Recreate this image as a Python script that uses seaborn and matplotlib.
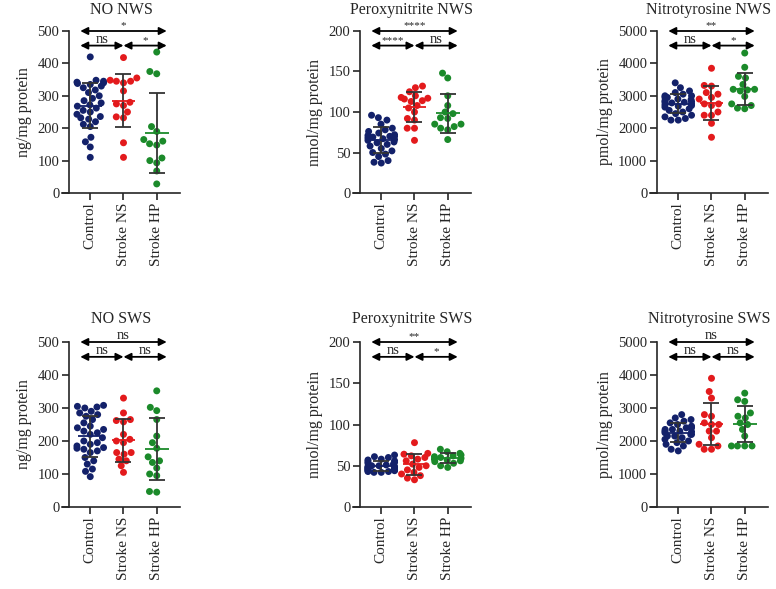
import numpy as np
import pandas as pd
import matplotlib.pyplot as plt
import seaborn as sns

# group names / colours
groups = ["Control", "Stroke NS", "Stroke HP"]
colors = ["#13216a", "#e31a1c", "#1b8a2a"]

# NO, non-wave sleep (ng/mg protein)
no_nws_control = [420, 348, 345, 342, 340, 338, 335, 330, 325, 318, 310, 300, 292, 285, 278, 272,
                  268, 262, 255, 250, 243, 236, 232, 228, 220, 212, 205, 172, 158, 142, 110]
no_nws_ns = [418, 355, 348, 345, 345, 340, 315, 280, 275, 270, 250, 235, 232, 155, 110]
no_nws_hp = [435, 375, 368, 205, 190, 165, 160, 152, 148, 108, 100, 93, 68, 28]

# Peroxynitrite NWS (nmol/mg protein)
per_nws_control = [96, 93, 90, 85, 80, 78, 76, 74, 72, 71, 70, 70, 69, 68, 67, 66, 65, 63, 62, 60,
                   58, 55, 52, 50, 48, 45, 40, 38, 37]
per_nws_ns = [132, 130, 125, 120, 118, 117, 116, 114, 113, 108, 105, 100, 92, 90, 80, 80, 65]
per_nws_hp = [148, 142, 120, 108, 100, 98, 93, 92, 85, 85, 82, 80, 78, 66]

# Nitrotyrosine NWS (pmol/mg protein)
nit_nws_control = [3400, 3250, 3150, 3100, 3050, 3000, 3000, 2950, 2950, 2900, 2880, 2850, 2820,
                   2800, 2800, 2780, 2750, 2720, 2700, 2680, 2650, 2600, 2550, 2500, 2450, 2400,
                   2350, 2300, 2250, 2250]
nit_nws_ns = [3850, 3320, 3300, 3100, 3050, 2950, 2900, 2750, 2750, 2700, 2500, 2400, 2400, 2150, 1720]
nit_nws_hp = [4320, 3880, 3600, 3550, 3350, 3200, 3200, 3180, 3150, 2980, 2750, 2700, 2620, 2600]

# NO, slow-wave sleep
no_sws_control = [308, 305, 303, 300, 290, 285, 280, 275, 265, 255, 245, 240, 235, 230, 225, 220,
                  210, 200, 195, 190, 185, 180, 178, 175, 170, 165, 150, 140, 130, 115, 108, 92]
no_sws_ns = [330, 285, 265, 262, 258, 220, 205, 200, 195, 165, 165, 160, 145, 140, 125, 105]
no_sws_hp = [352, 302, 292, 265, 215, 195, 178, 152, 140, 135, 118, 100, 95, 47, 45]

# Peroxynitrite SWS
per_sws_control = [63, 61, 60, 58, 57, 56, 55, 54, 53, 52, 51, 50, 50, 49, 49, 48, 48, 47, 47, 46,
                   46, 45, 45, 45, 44, 44, 43, 43, 42, 42]
per_sws_ns = [78, 65, 64, 62, 60, 58, 56, 52, 50, 48, 45, 42, 40, 38, 35, 33]
per_sws_hp = [70, 67, 65, 63, 62, 61, 60, 59, 58, 57, 56, 55, 53, 50, 48]

# Nitrotyrosine SWS
nit_sws_control = [2800, 2700, 2650, 2600, 2550, 2500, 2450, 2400, 2400, 2350, 2350, 2300, 2300,
                   2280, 2250, 2200, 2200, 2150, 2150, 2100, 2050, 2000, 1950, 1900, 1850, 1750, 1700]
nit_sws_ns = [3900, 3500, 3300, 2800, 2750, 2550, 2500, 2500, 2300, 2300, 2100, 1900, 1850, 1750, 1750]
nit_sws_hp = [3450, 3250, 3200, 2850, 2750, 2700, 2550, 2500, 2350, 2150, 1850, 1850, 1850, 1850]

titles = ["NO NWS", "Peroxynitrite NWS", "Nitrotyrosine NWS",
          "NO SWS", "Peroxynitrite SWS", "Nitrotyrosine SWS"]
ylabels = ["ng/mg protein", "nmol/mg protein", "pmol/mg protein"] * 2
ymax = [500, 200, 5000] * 2
ysteps = [100, 50, 1000] * 2
# significance: (Control vs HP, Control vs NS, NS vs HP)
sig = [("*", "ns", "*"), ("****", "****", "ns"), ("**", "ns", "*"),
       ("ns", "ns", "ns"), ("**", "ns", "*"), ("ns", "ns", "ns")]
panel_data = [
    (no_nws_control, no_nws_ns, no_nws_hp),
    (per_nws_control, per_nws_ns, per_nws_hp),
    (nit_nws_control, nit_nws_ns, nit_nws_hp),
    (no_sws_control, no_sws_ns, no_sws_hp),
    (per_sws_control, per_sws_ns, per_sws_hp),
    (nit_sws_control, nit_sws_ns, nit_sws_hp),
]

sns.set_style("ticks")
plt.rcParams["font.family"] = ["Liberation Serif", "DejaVu Serif"]

fig = plt.figure(figsize=(7.76, 5.89), dpi=100)
lefts = [62 / 776, 353 / 776, 650 / 776]
# (bottom, height) per row, in figure fraction
rows = [(1 - 193 / 589, 162 / 589), (1 - 507 / 589, 165 / 589)]
w = 118 / 776

for i in range(6):
    bottom, h = rows[i // 3]
    ax = fig.add_axes([lefts[i % 3], bottom, w, h])
    df = pd.DataFrame({
        "group": np.repeat(groups, [len(v) for v in panel_data[i]]),
        "value": np.concatenate(panel_data[i]),
    })
    sns.swarmplot(data=df, x="group", y="value", hue="group", order=groups,
                  palette=colors, size=5, legend=False, ax=ax, zorder=2, warn_thresh=1)

    stats = df.groupby("group", sort=False)["value"].agg(["mean", "std"]).reindex(groups)
    for k, g in enumerate(groups):
        m, s = stats.loc[g, "mean"], stats.loc[g, "std"]
        ax.errorbar(k, m, yerr=s, color="#333333", lw=1.3, capsize=6, capthick=1.3, zorder=3)
        ax.hlines(m, k - 0.36, k + 0.36, color=colors[k], lw=1.3, zorder=4)

    top = ymax[i]
    ax.set_ylim(0, top)
    ax.set_xlim(-0.85, 2.7)
    ax.set_yticks(np.arange(0, top + 1, ysteps[i]))
    ax.spines["left"].set_position(("data", -0.64))
    ax.spines["top"].set_visible(False)
    ax.spines["right"].set_visible(False)
    for sp in ["left", "bottom"]:
        ax.spines[sp].set_linewidth(1.2)
    ax.tick_params(axis="both", direction="out", length=5, width=1.2, labelsize=10.5, pad=2)
    ax.set_xticks(range(3))
    ax.set_xticklabels(groups, rotation=90, fontsize=11)
    ax.set_xlabel("")
    ax.set_ylabel(ylabels[i], fontsize=11.5)
    ax.set_title(titles[i], fontsize=11.5, pad=11.9 if i < 3 else 13.5)

    # significance arrows
    arrow = dict(arrowstyle="<|-|>", color="black", lw=1.3, shrinkA=0, shrinkB=0, mutation_scale=11)
    y1, y2 = top, top * 0.91
    ax.annotate("", xy=(2.3, y1), xytext=(-0.3, y1), arrowprops=arrow, annotation_clip=False)
    ax.annotate("", xy=(1.0, y2), xytext=(-0.3, y2), arrowprops=arrow, annotation_clip=False)
    ax.annotate("", xy=(2.3, y2), xytext=(1.0, y2), arrowprops=arrow, annotation_clip=False)
    for x, y, t in [(1.0, y1, sig[i][0]), (0.35, y2, sig[i][1]), (1.65, y2, sig[i][2])]:
        fs = 10.5 if t == "ns" else 8
        ax.annotate(t, xy=(x, y), xytext=(0, 2), textcoords="offset points",
                    ha="center", va="baseline", fontsize=fs, annotation_clip=False)

fig.savefig("out.png", dpi=100)
